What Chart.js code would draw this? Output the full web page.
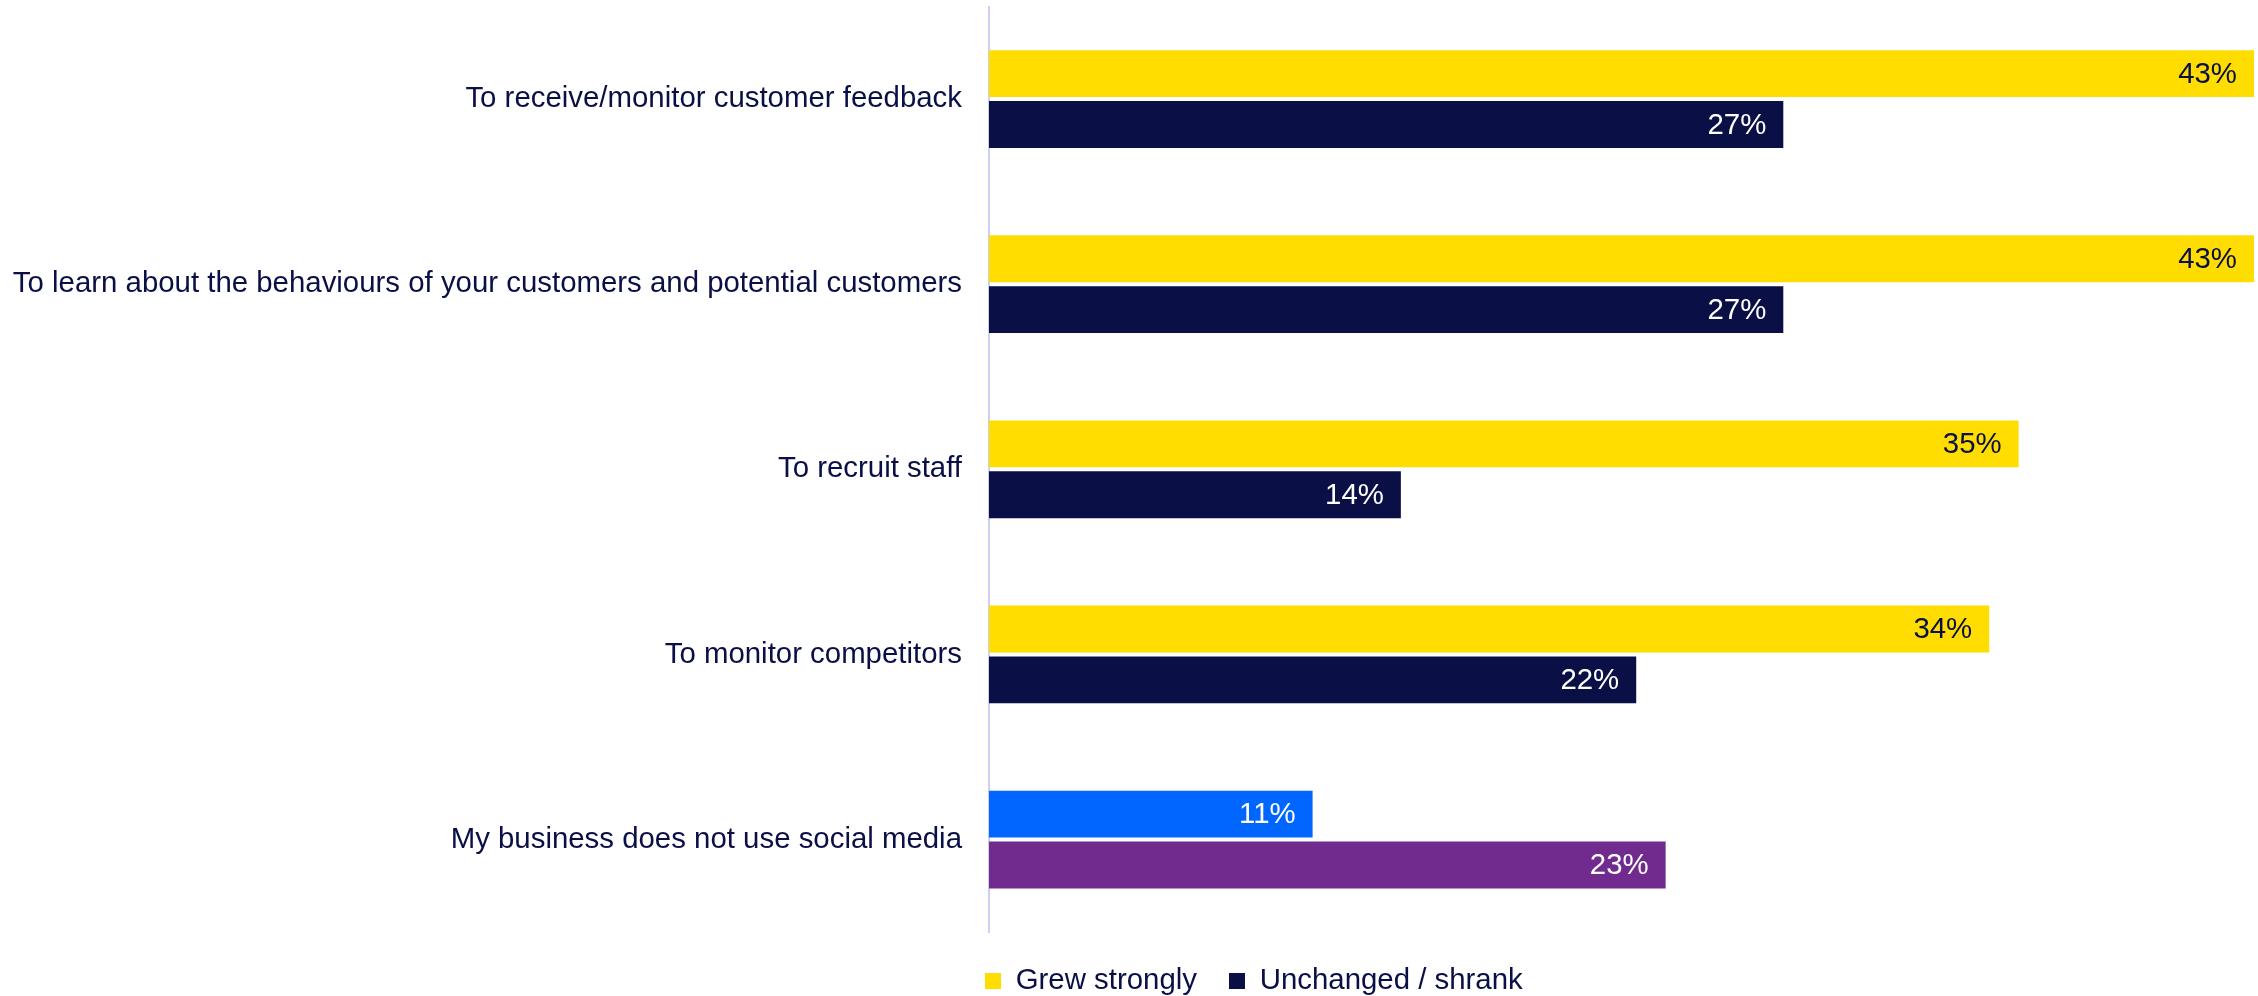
<!DOCTYPE html>
<html>
<head>
<meta charset="utf-8">
<script src="https://cdn.jsdelivr.net/npm/chart.js@4/dist/chart.umd.min.js"></script>
<style>
  html, body { margin: 0; padding: 0; background: #ffffff; }
  #wrap { width: 2258px; height: 996px; position: relative; }
</style>
</head>
<body>
<div id="wrap"><canvas id="chart" width="2258" height="996"></canvas></div>
<script>
// Uses of social media, split by business growth
const categories = [
  'To receive/monitor customer feedback',
  'To learn about the behaviours of your customers and potential customers',
  'To recruit staff',
  'To monitor competitors',
  'My business does not use social media'
];
const seriesNames = ['Grew strongly', 'Unchanged / shrank'];
const grewStrongly = [43, 43, 35, 34, 11];
const unchangedShrank = [27, 27, 14, 22, 23];

const YELLOW = '#FFDD00';
const NAVY = '#0A0F46';
const BLUE = '#0066FF';
const PURPLE = '#712B8E';
const AXIS_LINE = '#CDD0F4';
const FONT = '"Liberation Sans", Arial, Helvetica, sans-serif';
const TEXT_SIZE = 29.4;

const AXIS_X = 989;        // x position of the category axis line
const LEGEND_START = 985;  // x position of the first legend swatch
const LEGEND_MID_Y = 981;  // vertical centre of the legend row
const LAST = categories.length - 1;

// Value labels drawn just inside the end of each bar
const valueLabels = {
  id: 'valueLabels',
  afterDatasetsDraw(chart) {
    const ctx = chart.ctx;
    ctx.save();
    ctx.font = TEXT_SIZE + 'px ' + FONT;
    ctx.textAlign = 'right';
    ctx.textBaseline = 'middle';
    chart.data.datasets.forEach((ds, di) => {
      const meta = chart.getDatasetMeta(di);
      meta.data.forEach((bar, i) => {
        const v = ds.data[i];
        ctx.fillStyle = (di === 0 && i !== LAST) ? NAVY : '#FFFFFF';
        ctx.fillText(v + '%', bar.x - 17, bar.y + 1);
      });
    });
    ctx.restore();
  }
};

// Moves the legend row so it starts under the value area
const legendOffset = {
  id: 'legendOffset',
  afterLayout(chart) {
    const lg = chart.legend;
    if (!lg) return;
    const pad = lg.options.labels.padding;
    const size = lg.options.labels.font.size;
    const dx = LEGEND_START - (lg.left + pad);
    lg.left += dx;
    lg.right += dx;
    const dy = LEGEND_MID_Y - (lg.top + pad + size / 2);
    lg.top += dy;
    lg.bottom += dy;
  }
};

new Chart(document.getElementById('chart'), {
  type: 'bar',
  data: {
    labels: categories,
    datasets: [
      {
        label: seriesNames[0],
        data: grewStrongly,
        backgroundColor: (c) => (c.dataIndex === LAST ? BLUE : YELLOW),
        borderWidth: 0
      },
      {
        label: seriesNames[1],
        data: unchangedShrank,
        backgroundColor: (c) => (c.dataIndex === LAST ? PURPLE : NAVY),
        borderWidth: 0
      }
    ]
  },
  options: {
    indexAxis: 'y',
    responsive: false,
    animation: false,
    devicePixelRatio: 1,
    categoryPercentage: 0.55,
    barPercentage: 0.92,
    layout: { padding: { top: 6.5, right: 4, bottom: -7.5, left: 0 } },
    scales: {
      x: { display: false, min: 0, max: 43 },
      y: {
        grid: { display: false, drawTicks: false },
        border: { display: true, color: AXIS_LINE, width: 2 },
        ticks: {
          color: NAVY,
          padding: 27,
          font: { family: FONT, size: TEXT_SIZE }
        },
        afterFit(scale) {
          scale.width = AXIS_X;
          scale.paddingTop = 0;
          scale.paddingBottom = 0;
        }
      }
    },
    plugins: {
      legend: {
        position: 'bottom',
        align: 'start',
        labels: {
          color: NAVY,
          boxWidth: 16,
          boxHeight: 16,
          padding: 32,
          font: { family: FONT, size: TEXT_SIZE }
        }
      },
      tooltip: { enabled: false }
    }
  },
  plugins: [valueLabels, legendOffset]
});
</script>
</body>
</html>
